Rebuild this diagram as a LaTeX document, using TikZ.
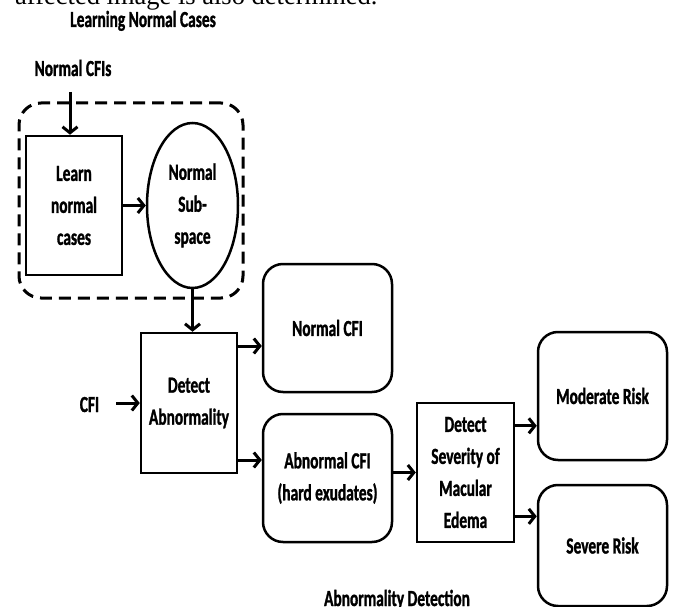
\documentclass[tikz,border=0pt]{standalone}
\usepackage{fontspec}
\usetikzlibrary{arrows.meta,shapes.geometric,calc}
\newfontfamily\dgfont[FakeStretch=0.67, FakeBold=1.2]{Carlito}
\newfontfamily\paperfont{Liberation Serif}
\begin{document}
\begin{tikzpicture}[x=1pt,y=-1pt,
  lbl/.style={font=\dgfont\bfseries\fontsize{23}{32}\selectfont, align=center, inner sep=0pt},
  sqbox/.style={lbl, draw, line width=2.5pt, rectangle},
  rbox/.style={lbl, draw, line width=2.5pt, rectangle, rounded corners=20pt, minimum width=129pt},
  arr/.style={line width=3pt, -{Straight Barb[length=6pt,width=15pt]}},
  grpbox/.style={draw, line width=3pt, dash pattern=on 12pt off 7pt, rounded corners=22pt}]
\useasboundingbox (0,0) rectangle (675,607);
\fill[white] (0,0) rectangle (675,607);

\node[anchor=base west, font=\paperfont\fontsize{26.5}{30}\selectfont, inner sep=0pt] (ptxt) at (15,5) {affected image is also determined.};

% group
\node[grpbox, minimum width=224pt, minimum height=195pt] (grp) at (131,200.5) {};
\node[lbl, anchor=base] (ttl) at (143,27) {Learning Normal Cases};
\node[lbl, anchor=base] (ncfis) at (73,76) {Normal CFIs};

\node[sqbox, minimum width=96pt, minimum height=139pt] (learn) at (74,205.5) {Learn\\normal\\cases};
\node[lbl, draw, line width=2.5pt, ellipse, minimum width=91pt, minimum height=165pt] (sub) at (192.5,205.5) {Normal\\Sub-\\space};

\node[sqbox, minimum width=96pt, minimum height=140pt] (det) at (189,403) {Detect\\Abnormality};
\node[lbl, anchor=base] (cfi) at (89.5,412) {CFI};

\node[rbox, minimum height=128pt] (ncfi) at (327.5,328) {Normal CFI};
\node[rbox, minimum height=128pt] (acfi) at (327.5,478) {Abnormal CFI\\(hard exudates)};
\node[sqbox, minimum width=97pt, minimum height=139pt] (sev) at (465.5,472.5) {Detect\\Severity of\\Macular\\Edema};
\node[rbox, minimum height=128pt] (mod) at (602.5,396) {Moderate Risk};
\node[rbox, minimum height=121pt] (svr) at (602.5,545.5) {Severe Risk};

\node[lbl, anchor=base] (abd) at (397,606) {Abnormality Detection};

% connectors
\coordinate (nstart) at (70,92);
\draw[arr] (nstart) -- (nstart |- learn.north);
\draw[arr] (learn.east) -- (sub.west);
\draw[arr] (sub.south) -- (sub.south |- det.north);
\coordinate (cfistart) at (116,403);
\draw[arr] (cfistart) -- (det.west);
\coordinate (d1) at ($(det.north east)!0.1!(det.south east)$);
\coordinate (d2) at ($(det.north east)!0.9!(det.south east)$);
\draw[arr] (d1) -- (d1 -| ncfi.west);
\draw[arr] (d2) -- (d2 -| acfi.west);
\draw[arr] (sev.west -| acfi.east) -- (sev.west);
\coordinate (s1) at ($(sev.north east)!0.17!(sev.south east)$);
\coordinate (s2) at ($(sev.north east)!0.81!(sev.south east)$);
\draw[arr] (s1) -- (s1 -| mod.west);
\draw[arr] (s2) -- (s2 -| svr.west);
\end{tikzpicture}
\end{document}
